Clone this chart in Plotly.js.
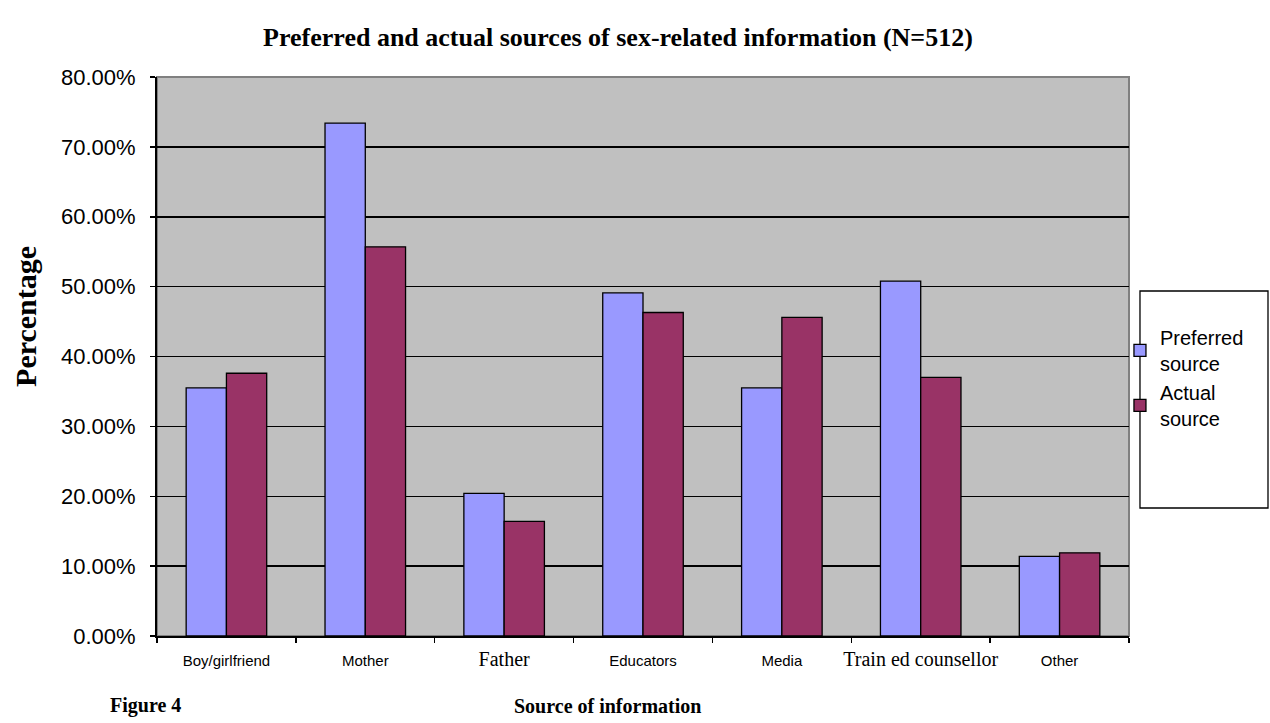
<!DOCTYPE html>
<html>
<head>
<meta charset="utf-8">
<script src="https://cdn.plot.ly/plotly-3.0.1.min.js"></script>
<style>html,body{margin:0;padding:0;background:#fff;}#chart{width:1270px;height:723px;}</style>
</head>
<body>
<div id="chart"></div>
<script>
var categories = ["Boy/girlfriend", "Mother", "Father", "Educators", "Media", "Trained counsellor", "Other"];
var tickLabels = ["Boy/girlfriend", "Mother",
  "<span style=\"font-family:'Liberation Serif','Times New Roman',serif;font-size:20px\">Father</span>",
  "Educators", "Media",
  "<span style=\"font-family:'Liberation Serif','Times New Roman',serif;font-size:20px\">Train ed counsellor</span>",
  "Other"];
var preferred = [0.355, 0.734, 0.204, 0.491, 0.355, 0.508, 0.114];
var actual = [0.376, 0.557, 0.164, 0.463, 0.456, 0.370, 0.119];
var seriesNames = ["Preferred<br>source", "Actual<br>source"];
var yTicks = [0, 0.1, 0.2, 0.3, 0.4, 0.5, 0.6, 0.7, 0.8];

var serif = "'Liberation Serif','Times New Roman',serif";
var sans = "'Liberation Sans',Arial,sans-serif";

var traces = [
  {type: "bar", x: categories, y: preferred, name: seriesNames[0], legendgroup: "a",
   marker: {color: "#9999FF", line: {color: "#000000", width: 1.3}}},
  {type: "bar", x: categories, y: actual, name: seriesNames[1], legendgroup: "b",
   marker: {color: "#993366", line: {color: "#000000", width: 1.3}}}
];

var layout = {
  width: 1270, height: 723,
  margin: {l: 157, r: 141, t: 77, b: 87},
  paper_bgcolor: "#ffffff",
  plot_bgcolor: "#C0C0C0",
  barmode: "group",
  bargap: 0.42,
  bargroupgap: 0,
  showlegend: true,
  title: {text: "<b>Preferred and actual sources of sex-related information (N=512)</b>",
          font: {family: serif, size: 26, color: "#000"},
          x: 0.4866, xanchor: "center", y: 0.9488, yanchor: "middle"},
  xaxis: {
    type: "category",
    tickmode: "array", tickvals: categories, ticktext: tickLabels,
    tickson: "boundaries",
    tickangle: 0,
    ticks: "outside", ticklen: 5, tickwidth: 1.5, tickcolor: "#000",
    ticklabelstandoff: 10,
    tickfont: {family: sans, size: 15, color: "#000"},
    showline: true, linecolor: "#000", linewidth: 2,
    showgrid: false, zeroline: false,
    fixedrange: true
  },
  yaxis: {
    range: [0, 0.8],
    tickmode: "array", tickvals: yTicks,
    tickformat: ".2%",
    ticks: "outside", ticklen: 5, tickwidth: 1.5, tickcolor: "#000",
    ticklabelstandoff: 10,
    tickfont: {family: sans, size: 22, color: "#000"},
    showline: true, linecolor: "#000", linewidth: 2,
    showgrid: true, gridcolor: "#000", gridwidth: 1.5,
    zeroline: false,
    fixedrange: true
  },
  legend: {
    x: 0.9907, xanchor: "left", y: 0.569, yanchor: "top",
    bgcolor: "rgba(0,0,0,0)", borderwidth: 0,
    font: {family: sans, size: 20, color: "#000"},
    itemwidth: 30, tracegroupgap: 35, valign: "middle",
    traceorder: "normal"
  },
  shapes: [
    {type: "rect", xref: "paper", yref: "paper", x0: 0, x1: 1, y0: 0, y1: 1,
     line: {color: "#808080", width: 2}, fillcolor: "rgba(0,0,0,0)", layer: "below"},
    {type: "rect", xref: "paper", yref: "paper", x0: 1.0113, x1: 1.143, y0: 0.229, y1: 0.6172,
     line: {color: "#000", width: 1.3}, fillcolor: "rgba(0,0,0,0)"}
  ],
  annotations: [
    {text: "<b>Percentage</b>", xref: "paper", yref: "paper", x: -0.1348, y: 0.5725,
     xanchor: "center", yanchor: "middle", textangle: -90, showarrow: false,
     font: {family: serif, size: 30, color: "#000"}},
    {text: "<b>Source of information</b>", xref: "paper", yref: "paper", x: 0.463, y: -0.1252,
     xanchor: "center", yanchor: "middle", showarrow: false,
     font: {family: serif, size: 20, color: "#000"}},
    {text: "<b>Figure 4</b>", xref: "paper", yref: "paper", x: -0.0123, y: -0.1252,
     xanchor: "center", yanchor: "middle", showarrow: false,
     font: {family: serif, size: 20, color: "#000"}}
  ]
};

Plotly.newPlot("chart", traces, layout, {displayModeBar: false, staticPlot: true});
</script>
</body>
</html>
